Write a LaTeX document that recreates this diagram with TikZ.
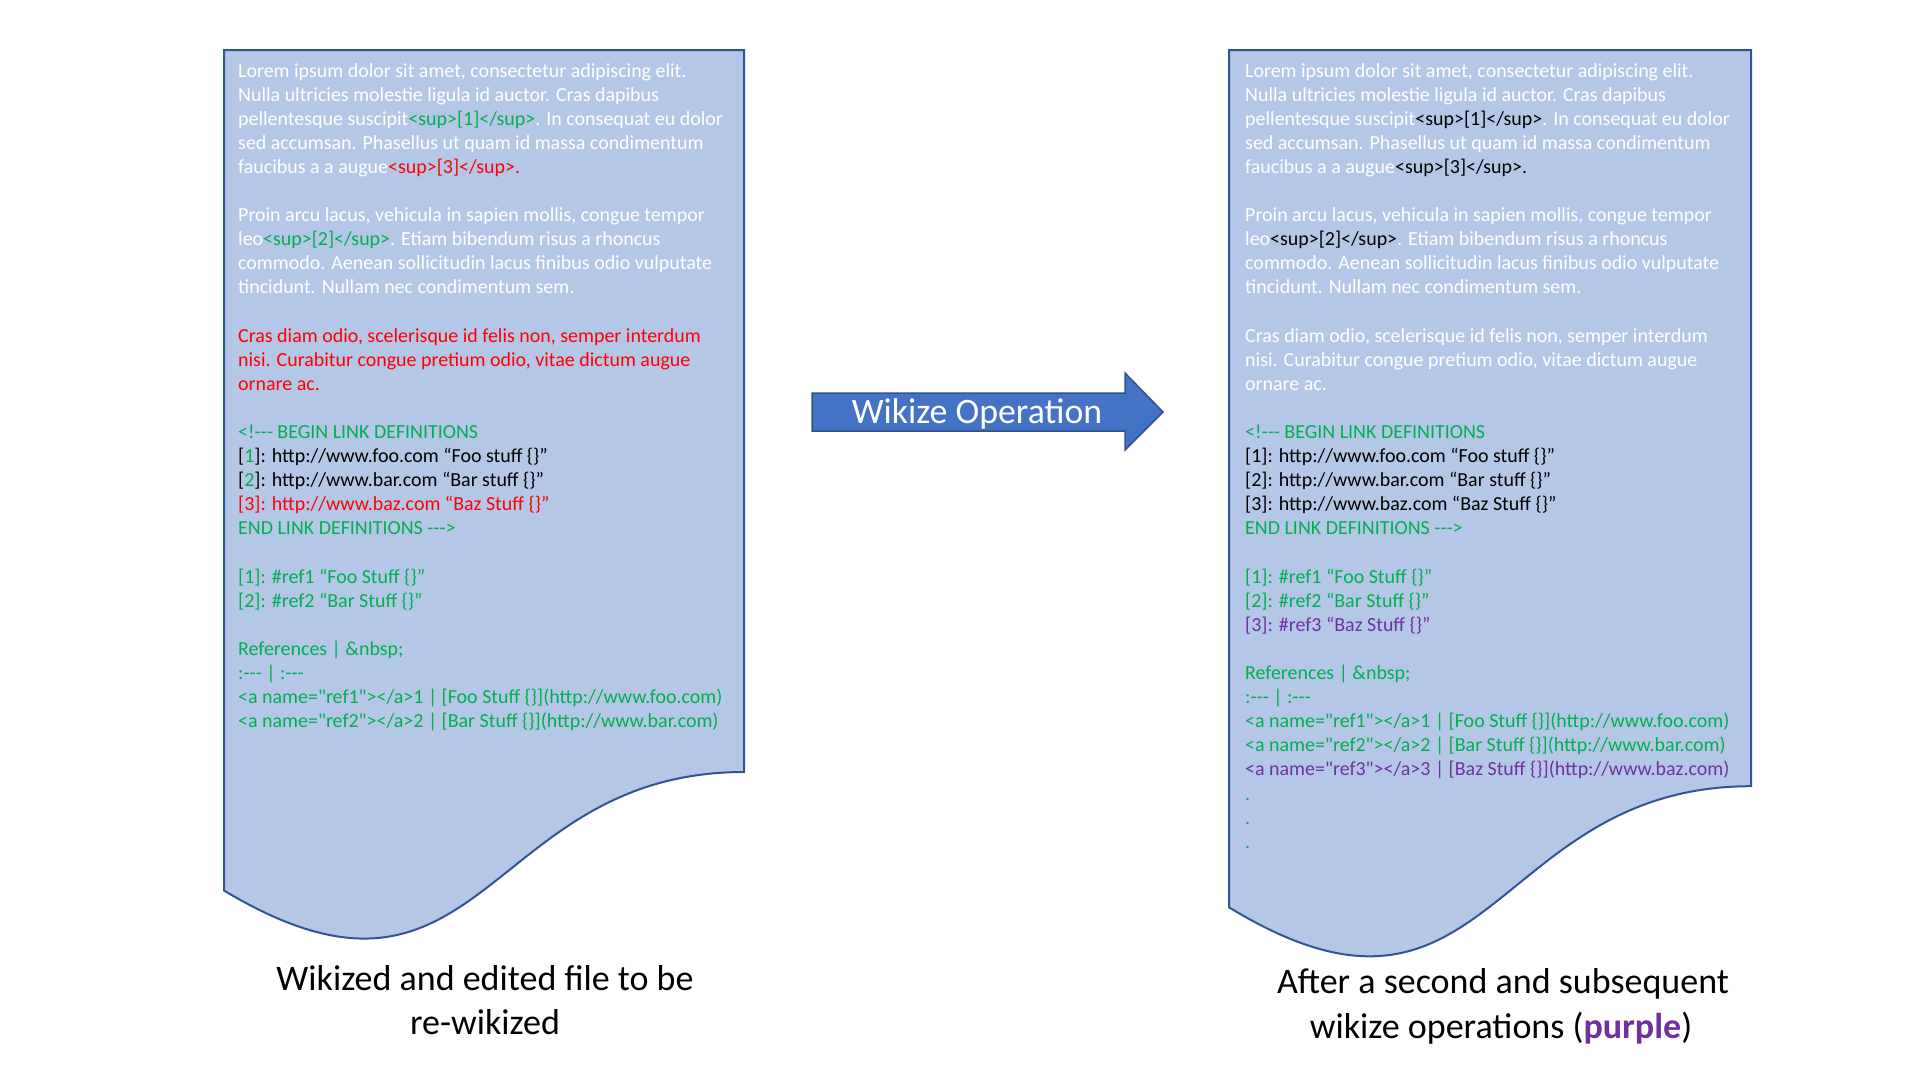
\documentclass[tikz,border=0pt]{standalone}
\usepackage{fontspec}
\setmainfont{Carlito}[Ligatures=TeXOff]
\definecolor{docfill}{HTML}{B4C7E7}
\definecolor{docline}{HTML}{2F5597}
\definecolor{arrfill}{HTML}{4472C4}
\definecolor{arrline}{HTML}{2F528F}
\definecolor{gr}{HTML}{00B050}
\definecolor{rd}{HTML}{FF0000}
\definecolor{pu}{HTML}{7030A0}
\newcommand\dline[5]{\node[txt,text=#4] (#1) at (#2,{77+24.1*#3}) {#5};}
\begin{document}
\begin{tikzpicture}[x=1pt,y=-1pt,
  doc/.style={fill=docfill,draw=docline,line width=2pt,line join=miter},
  txt/.style={anchor=base west,inner sep=0pt,font=\fontsize{19.95}{24}\selectfont},
  lbl/.style={anchor=base,inner sep=0pt,font=\fontsize{36}{44}\selectfont,text=black}]
\useasboundingbox (0,0) rectangle (1920,1080);
% documents
\draw[doc] (224,50) -- (744,50) -- (744,772) .. controls (484,772) and (484,1046.75) .. (224,890.5) -- cycle;
\draw[doc] (1229,50) -- (1751,50) -- (1751,786.2) .. controls (1490,786.2) and (1490,1066.7) .. (1229,907.3) -- cycle;
% arrow
\draw[fill=arrfill,draw=arrline,line width=1.5pt,line join=miter] (812,393) -- (1125,393) -- (1125,373) -- (1163,412) -- (1125,450) -- (1125,431) -- (812,431) -- cycle;
\node[anchor=base,inner sep=0pt,text=white,font=\fontsize{35.8}{40}\selectfont] (op) at (977,423) {Wikize Operation};
% left text
\dline{l0}{238}{0}{white}{Lorem ipsum dolor sit amet, consectetur adipiscing elit.}
\dline{l1}{238}{1}{white}{Nulla ultricies molestie ligula id auctor. Cras dapibus}
\dline{l2}{238}{2}{white}{pellentesque suscipit\textcolor{gr}{<sup>[1]</sup>}. In consequat eu dolor}
\dline{l3}{238}{3}{white}{sed accumsan. Phasellus ut quam id massa condimentum}
\dline{l4}{238}{4}{white}{faucibus a a augue\textcolor{rd}{<sup>[3]</sup>.}}
\dline{l6}{238}{6}{white}{Proin arcu lacus, vehicula in sapien mollis, congue tempor}
\dline{l7}{238}{7}{white}{leo\textcolor{gr}{<sup>[2]</sup>}. Etiam bibendum risus a rhoncus}
\dline{l8}{238}{8}{white}{commodo. Aenean sollicitudin lacus finibus odio vulputate}
\dline{l9}{238}{9}{white}{tincidunt. Nullam nec condimentum sem.}
\dline{l11}{238}{11}{rd}{Cras diam odio, scelerisque id felis non, semper interdum}
\dline{l12}{238}{12}{rd}{nisi. Curabitur congue pretium odio, vitae dictum augue}
\dline{l13}{238}{13}{rd}{ornare ac.}
\dline{l15}{238}{15}{gr}{<!--- BEGIN LINK DEFINITIONS}
\dline{l16}{238}{16}{black}{[\textcolor{gr}{1}]: http://www.foo.com “Foo stuff \{\}”}
\dline{l17}{238}{17}{black}{[\textcolor{gr}{2}]: http://www.bar.com “Bar stuff \{\}”}
\dline{l18}{238}{18}{rd}{[3]: http://www.baz.com “Baz Stuff \{\}”}
\dline{l19}{238}{19}{gr}{END LINK DEFINITIONS --->}
\dline{l21}{238}{21}{gr}{[1]: \#ref1 “Foo Stuff \{\}”}
\dline{l22}{238}{22}{gr}{[2]: \#ref2 “Bar Stuff \{\}”}
\dline{l24}{238}{24}{gr}{References | \&nbsp;}
\dline{l25}{238}{25}{gr}{:--- | :---}
\dline{l26}{238}{26}{gr}{<a name="ref1"></a>1 | [Foo Stuff \{\}](http://www.foo.com)}
\dline{l27}{238}{27}{gr}{<a name="ref2"></a>2 | [Bar Stuff \{\}](http://www.bar.com)}
% right text
\dline{r0}{1245}{0}{white}{Lorem ipsum dolor sit amet, consectetur adipiscing elit.}
\dline{r1}{1245}{1}{white}{Nulla ultricies molestie ligula id auctor. Cras dapibus}
\dline{r2}{1245}{2}{white}{pellentesque suscipit\textcolor{black}{<sup>[1]</sup>}. In consequat eu dolor}
\dline{r3}{1245}{3}{white}{sed accumsan. Phasellus ut quam id massa condimentum}
\dline{r4}{1245}{4}{white}{faucibus a a augue\textcolor{black}{<sup>[3]</sup>.}}
\dline{r6}{1245}{6}{white}{Proin arcu lacus, vehicula in sapien mollis, congue tempor}
\dline{r7}{1245}{7}{white}{leo\textcolor{black}{<sup>[2]</sup>}. Etiam bibendum risus a rhoncus}
\dline{r8}{1245}{8}{white}{commodo. Aenean sollicitudin lacus finibus odio vulputate}
\dline{r9}{1245}{9}{white}{tincidunt. Nullam nec condimentum sem.}
\dline{r11}{1245}{11}{white}{Cras diam odio, scelerisque id felis non, semper interdum}
\dline{r12}{1245}{12}{white}{nisi. Curabitur congue pretium odio, vitae dictum augue}
\dline{r13}{1245}{13}{white}{ornare ac.}
\dline{r15}{1245}{15}{gr}{<!--- BEGIN LINK DEFINITIONS}
\dline{r16}{1245}{16}{black}{[1]: http://www.foo.com “Foo stuff \{\}”}
\dline{r17}{1245}{17}{black}{[2]: http://www.bar.com “Bar stuff \{\}”}
\dline{r18}{1245}{18}{black}{[3]: http://www.baz.com “Baz Stuff \{\}”}
\dline{r19}{1245}{19}{gr}{END LINK DEFINITIONS --->}
\dline{r21}{1245}{21}{gr}{[1]: \#ref1 “Foo Stuff \{\}”}
\dline{r22}{1245}{22}{gr}{[2]: \#ref2 “Bar Stuff \{\}”}
\dline{r23}{1245}{23}{pu}{[3]: \#ref3 “Baz Stuff \{\}”}
\dline{r25}{1245}{25}{gr}{References | \&nbsp;}
\dline{r26}{1245}{26}{gr}{:--- | :---}
\dline{r27}{1245}{27}{gr}{<a name="ref1"></a>1 | [Foo Stuff \{\}](http://www.foo.com)}
\dline{r28}{1245}{28}{gr}{<a name="ref2"></a>2 | [Bar Stuff \{\}](http://www.bar.com)}
\dline{r29}{1245}{29}{pu}{<a name="ref3"></a>3 | [Baz Stuff \{\}](http://www.baz.com)}
\dline{r30}{1245}{30}{gr}{.}
\dline{r31}{1245}{31}{gr}{.}
\dline{r32}{1245}{32}{gr}{.}
% labels
\node[lbl] (lab1) at (485,990) {Wikized and edited file to be};
\node[lbl] (lab2) at (485,1034) {re-wikized};
\node[lbl] (rab1) at (1503,993) {After a second and subsequent};
\node[lbl] (rab2) at (1501,1038) {wikize operations (\textcolor{pu}{\textbf{purple}})};
\end{tikzpicture}
\end{document}
